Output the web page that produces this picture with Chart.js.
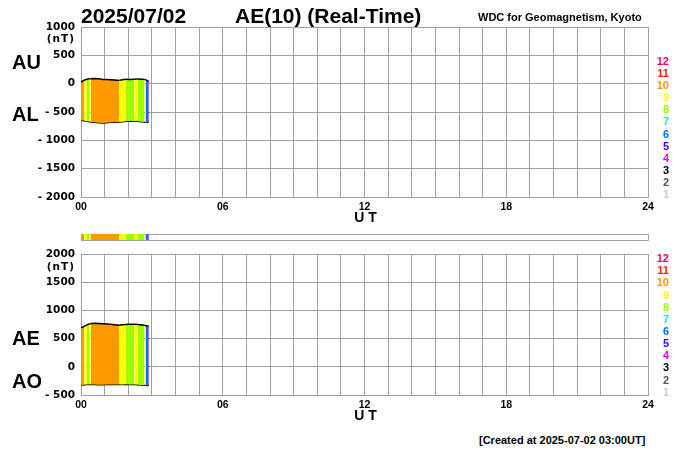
<!DOCTYPE html>
<html>
<head>
<meta charset="utf-8">
<script src="https://cdn.jsdelivr.net/npm/chart.js"></script>
<style>
html,body{margin:0;padding:0;background:#fff;}
#wrap{position:relative;width:700px;height:450px;overflow:hidden;font-family:"Liberation Sans",Arial,sans-serif;color:#000;}
#wrap canvas{position:absolute;left:0;}
.t{position:absolute;white-space:nowrap;font-weight:bold;line-height:1;transform:translateY(-50%);}
.r{text-align:right;}
</style>
</head>
<body>
<div id="wrap">
  <canvas id="cTop" width="700" height="222" style="top:0px"></canvas>
  <canvas id="cBar" width="700" height="16" style="top:228px"></canvas>
  <canvas id="cBot" width="700" height="182" style="top:240px"></canvas>
</div>
<script>
// ---------- data ----------
const dateLabel = '2025/07/02';
const titleLabel = 'AE(10) (Real-Time)';
const sourceLabel = 'WDC for Geomagnetism, Kyoto';
const createdLabel = '[Created at 2025-07-02 03:00UT]';
const unitLabel = '(nT)';
const axisTitle = 'U T';
const xTickLabels = ['00', '06', '12', '18', '24'];

// UT minutes of each sample
const timesMin = [0, 8, 15, 21, 25, 35, 45, 55, 65, 75, 85, 97, 105, 114, 125, 135, 144, 152, 161, 165, 170, 172];
// number of contributing stations (colour code)
const stations = [10, 9, 8, 9, 10, 10, 10, 10, 10, 10, 10, 9, 9, 8, 8, 9, 8, 8, 9, 6, 5, 5];
const auValues = [30, 60, 78, 85, 88, 90, 85, 75, 72, 70, 65, 58, 68, 78, 75, 80, 82, 80, 76, 65, 50, 40];
const alValues = [-647, -655, -665, -670, -675, -682, -690, -694, -688, -682, -680, -677, -670, -662, -659, -663, -665, -670, -675, -677, -680, -680];
const aeValues = [693, 715, 745, 760, 768, 771, 768, 765, 760, 753, 745, 735, 745, 750, 753, 753, 748, 745, 735, 729, 725, 720];
const aoValues = [-323, -318, -315, -312, -314, -315, -318, -320, -315, -312, -312, -316, -314, -310, -312, -315, -318, -322, -326, -330, -330, -328];
const legendNumbers = [12, 11, 10, 9, 8, 7, 6, 5, 4, 3, 2, 1];

// ---------- styles ----------
const stationColors = {
  1: '#cccccc', 2: '#555555', 3: '#000000', 4: '#e000ff', 5: '#2a00ff', 6: '#0070ff',
  7: '#00f0d0', 8: '#99ff00', 9: '#ffff00', 10: '#ff9900', 11: '#ff2200', 12: '#ff0066'
};
const GRID = '#a0a0a0';
const yTickFont = {family: 'DejaVu Sans', weight: 'bold', size: 10.5};
const xTickFont = {family: 'Liberation Sans', weight: 'bold', size: 10.5};

function pts(vals) { return timesMin.map((t, i) => ({x: t, y: vals[i]})); }
const segColor = {backgroundColor: c => stationColors[stations[c.p0DataIndex]]};
function yLabel(v) { return v < 0 ? '- ' + (-v) : String(v); }
function xLabel(v) { return v % 360 === 0 ? xTickLabels[v / 360] : ''; }

function panel(canvasId, upper, lower, yMin, yMax, padTop, xHeight) {
  return new Chart(document.getElementById(canvasId), {
    type: 'line',
    data: {
      datasets: [
        {data: pts(upper), borderColor: '#000', borderWidth: 1.5, pointRadius: 0, tension: 0,
         fill: '+1', backgroundColor: stationColors[10], segment: segColor},
        {data: pts(lower), borderColor: '#000', borderWidth: 1.5, pointRadius: 0, tension: 0, fill: false}
      ]
    },
    options: {
      responsive: false, animation: false, events: [],
      layout: {padding: {top: padTop, right: 52, left: 0, bottom: 0}},
      plugins: {legend: {display: false}, tooltip: {enabled: false}},
      scales: {
        x: {type: 'linear', min: 0, max: 1440,
            ticks: {stepSize: 60, autoSkip: false, maxRotation: 0, padding: 4, color: '#000', font: xTickFont, callback: xLabel},
            grid: {color: GRID, lineWidth: 1, drawTicks: false},
            border: {color: GRID},
            afterFit: s => { s.height = xHeight; }},
        y: {min: yMin, max: yMax,
            ticks: {stepSize: 500, padding: 6, color: '#000', font: yTickFont, callback: yLabel},
            grid: {color: GRID, lineWidth: 1, drawTicks: false},
            border: {color: GRID},
            afterFit: s => { s.width = 81; }}
      }
    }
  });
}

panel('cTop', auValues, alValues, -2000, 1000, 27, 25);
panel('cBot', aeValues, aoValues, -500, 2000, 14, 27);

new Chart(document.getElementById('cBar'), {
  type: 'line',
  data: {datasets: [{data: timesMin.map(t => ({x: t, y: 1})), borderWidth: 0, pointRadius: 0,
                     fill: 'origin', backgroundColor: stationColors[10], segment: segColor}]},
  options: {
    responsive: false, animation: false, events: [],
    layout: {padding: {top: 6, right: 52, left: 0, bottom: 4}},
    plugins: {legend: {display: false}, tooltip: {enabled: false}},
    scales: {
      x: {type: 'linear', min: 0, max: 1440, ticks: {display: false, stepSize: 1440},
          grid: {color: GRID, drawTicks: false}, border: {color: GRID}},
      y: {min: 0, max: 1, ticks: {display: false, stepSize: 1},
          grid: {color: GRID, drawTicks: false}, border: {color: GRID},
          afterFit: s => { s.width = 81; }}
    }
  }
});

// ---------- text ----------
const wrap = document.getElementById('wrap');
function addText(txt, opts) {
  const d = document.createElement('div');
  d.className = 't' + (opts.right !== undefined ? ' r' : '');
  d.textContent = txt;
  if (opts.left !== undefined) d.style.left = opts.left + 'px';
  if (opts.right !== undefined) d.style.right = (700 - opts.right) + 'px';
  if (opts.cx !== undefined) { d.style.left = opts.cx + 'px'; d.style.transform = 'translate(-50%,-50%)'; }
  d.style.top = opts.y + 'px';
  d.style.fontSize = opts.size + 'px';
  if (opts.family) d.style.fontFamily = opts.family;
  if (opts.color) d.style.color = opts.color;
  if (opts.ls) d.style.letterSpacing = opts.ls + 'px';
  wrap.appendChild(d);
}
addText(dateLabel, {left: 81, y: 15, size: 21});
addText(titleLabel, {left: 235, y: 15, size: 21});
addText(sourceLabel, {left: 478, y: 17, size: 11});
addText(createdLabel, {left: 479, y: 440, size: 11});
addText(unitLabel, {right: 75, y: 38, size: 10.5, family: 'DejaVu Sans', ls: 1});
addText(unitLabel, {right: 75, y: 266, size: 10.5, family: 'DejaVu Sans', ls: 1});
addText('AU', {left: 12, y: 62, size: 20});
addText('AL', {left: 12, y: 114, size: 20});
addText('AE', {left: 12, y: 338, size: 20});
addText('AO', {left: 12, y: 380.5, size: 20});
addText(axisTitle, {cx: 365.5, y: 217, size: 14});
addText(axisTitle, {cx: 365.5, y: 415, size: 14});
legendNumbers.forEach((n, i) => {
  addText(String(n), {right: 669, y: 61.2 + i * 12.05, size: 11, color: stationColors[n]});
  addText(String(n), {right: 669, y: 258.2 + i * 12.14, size: 11, color: stationColors[n]});
});
</script>
</body>
</html>
